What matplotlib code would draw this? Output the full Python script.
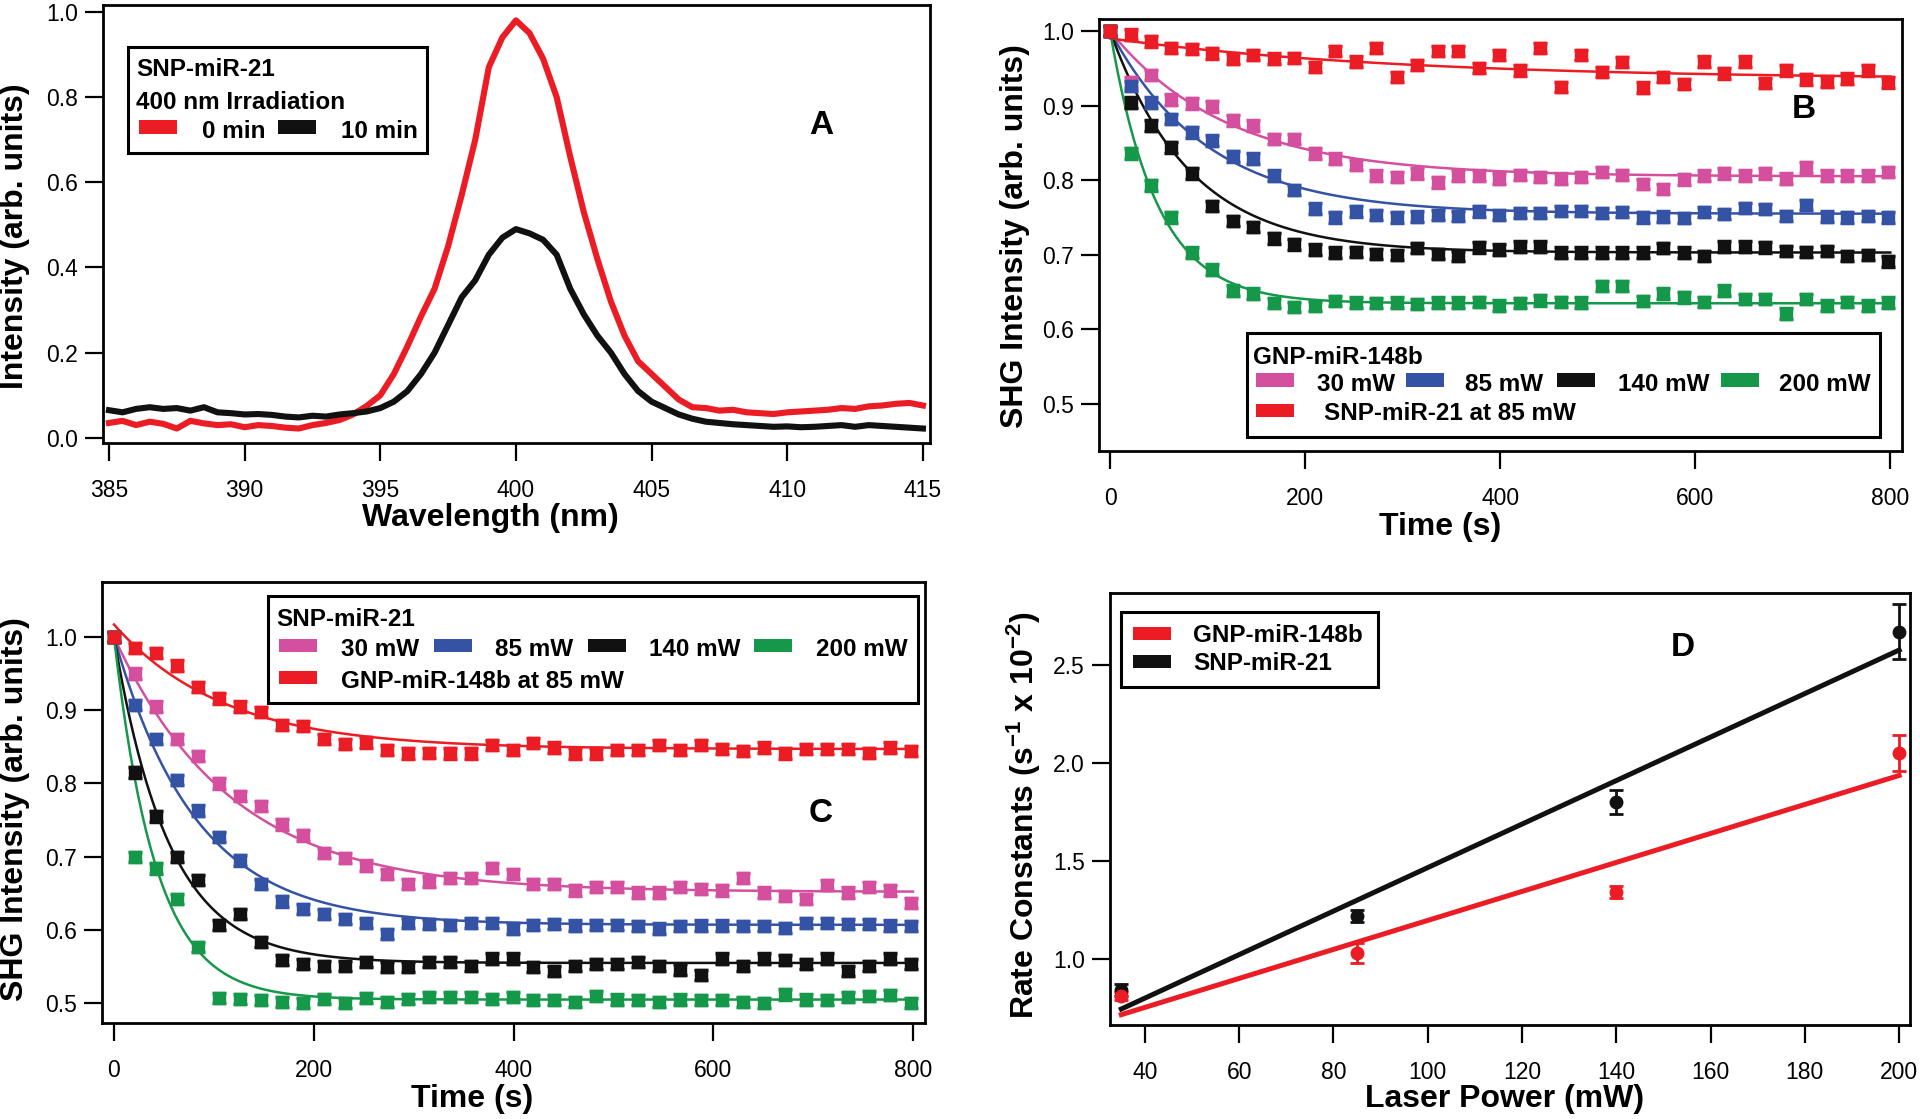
import numpy as np
import matplotlib
matplotlib.use('Agg')
import matplotlib.pyplot as plt
from matplotlib.patches import Rectangle

plt.rcParams['font.family'] = ['Liberation Sans', 'DejaVu Sans']
plt.rcParams['mathtext.fontset'] = 'custom'
plt.rcParams['mathtext.bf'] = 'Liberation Sans:bold'
plt.rcParams['mathtext.rm'] = 'Liberation Sans:bold'
plt.rcParams['mathtext.default'] = 'bf'

# ---------------- data ----------------
# panel A: spectra (0.5 nm steps)
wavelength = [385.0, 385.5, 386.0, 386.5, 387.0, 387.5, 388.0, 388.5, 389.0, 389.5,
              390.0, 390.5, 391.0, 391.5, 392.0, 392.5, 393.0, 393.5, 394.0, 394.5,
              395.0, 395.5, 396.0, 396.5, 397.0, 397.5, 398.0, 398.5, 399.0, 399.5,
              400.0, 400.5, 401.0, 401.5, 402.0, 402.5, 403.0, 403.5, 404.0, 404.5,
              405.0, 405.5, 406.0, 406.5, 407.0, 407.5, 408.0, 408.5, 409.0, 409.5,
              410.0, 410.5, 411.0, 411.5, 412.0, 412.5, 413.0, 413.5, 414.0, 414.5,
              415.0]
spec_0min = [0.035, 0.040, 0.030, 0.038, 0.033, 0.022, 0.040, 0.034, 0.030, 0.032,
             0.025, 0.030, 0.028, 0.024, 0.022, 0.030, 0.035, 0.042, 0.055, 0.075,
             0.100, 0.150, 0.215, 0.285, 0.350, 0.450, 0.570, 0.700, 0.870, 0.940,
             0.980, 0.950, 0.890, 0.800, 0.660, 0.530, 0.420, 0.320, 0.240, 0.180,
             0.150, 0.120, 0.090, 0.072, 0.070, 0.064, 0.066, 0.060, 0.058, 0.056,
             0.060, 0.062, 0.064, 0.066, 0.070, 0.068, 0.074, 0.076, 0.080, 0.082,
             0.076]
spec_10min = [0.065, 0.060, 0.068, 0.072, 0.068, 0.070, 0.064, 0.072, 0.060, 0.058,
              0.055, 0.056, 0.054, 0.050, 0.048, 0.052, 0.050, 0.055, 0.058, 0.062,
              0.070, 0.085, 0.110, 0.150, 0.200, 0.265, 0.330, 0.370, 0.430, 0.470,
              0.490, 0.480, 0.465, 0.430, 0.350, 0.290, 0.240, 0.200, 0.150, 0.110,
              0.085, 0.070, 0.055, 0.045, 0.038, 0.035, 0.032, 0.030, 0.028, 0.026,
              0.027, 0.025, 0.026, 0.028, 0.030, 0.026, 0.030, 0.028, 0.026, 0.024,
              0.022]

# panels B and C: SHG decay (time in s)
time_s = [0, 21, 42, 63, 84, 105, 126, 147, 168, 189, 210, 231, 252, 273, 294, 315,
          336, 357, 378, 399, 420, 441, 462, 483, 504, 525, 546, 567, 588, 609, 630,
          651, 672, 693, 714, 735, 756, 777, 798]

B_30 = [1.000, 0.931, 0.941, 0.908, 0.903, 0.899, 0.880, 0.873, 0.855, 0.855, 0.836,
        0.829, 0.820, 0.806, 0.804, 0.809, 0.797, 0.806, 0.806, 0.802, 0.807, 0.804,
        0.802, 0.804, 0.811, 0.807, 0.795, 0.788, 0.801, 0.806, 0.809, 0.806, 0.809,
        0.802, 0.817, 0.806, 0.806, 0.806, 0.811]
B_85 = [1.000, 0.926, 0.904, 0.882, 0.864, 0.853, 0.832, 0.829, 0.806, 0.787, 0.762,
        0.750, 0.758, 0.753, 0.750, 0.751, 0.753, 0.752, 0.758, 0.753, 0.756, 0.756,
        0.759, 0.759, 0.756, 0.757, 0.750, 0.751, 0.749, 0.757, 0.755, 0.763, 0.761,
        0.752, 0.767, 0.751, 0.750, 0.752, 0.750]
B_140 = [1.000, 0.904, 0.873, 0.844, 0.809, 0.765, 0.745, 0.737, 0.722, 0.714, 0.707,
         0.703, 0.704, 0.701, 0.700, 0.709, 0.701, 0.698, 0.710, 0.707, 0.711, 0.711,
         0.703, 0.703, 0.703, 0.703, 0.703, 0.709, 0.703, 0.698, 0.711, 0.711, 0.710,
         0.705, 0.704, 0.705, 0.698, 0.700, 0.691]
B_200 = [1.000, 0.836, 0.793, 0.750, 0.703, 0.680, 0.652, 0.648, 0.635, 0.630, 0.631,
         0.638, 0.636, 0.635, 0.636, 0.634, 0.636, 0.636, 0.637, 0.632, 0.635, 0.639,
         0.637, 0.636, 0.658, 0.658, 0.638, 0.648, 0.643, 0.637, 0.652, 0.641, 0.641,
         0.621, 0.641, 0.632, 0.637, 0.632, 0.636]
B_snp85 = [1.000, 0.995, 0.986, 0.977, 0.976, 0.970, 0.963, 0.968, 0.963, 0.964, 0.952,
           0.973, 0.959, 0.977, 0.938, 0.954, 0.973, 0.973, 0.950, 0.968, 0.947, 0.977,
           0.925, 0.968, 0.945, 0.958, 0.924, 0.938, 0.929, 0.959, 0.943, 0.959, 0.930,
           0.947, 0.935, 0.932, 0.936, 0.947, 0.931]

C_30 = [1.000, 0.950, 0.905, 0.861, 0.837, 0.800, 0.783, 0.769, 0.744, 0.729, 0.705,
        0.698, 0.688, 0.676, 0.663, 0.666, 0.671, 0.671, 0.685, 0.676, 0.663, 0.663,
        0.654, 0.659, 0.659, 0.651, 0.651, 0.659, 0.656, 0.654, 0.671, 0.651, 0.646,
        0.642, 0.661, 0.651, 0.659, 0.654, 0.637]
C_85 = [1.000, 0.907, 0.861, 0.805, 0.763, 0.727, 0.695, 0.663, 0.639, 0.629, 0.622,
        0.615, 0.610, 0.595, 0.610, 0.608, 0.607, 0.610, 0.610, 0.602, 0.607, 0.608,
        0.606, 0.607, 0.607, 0.605, 0.602, 0.605, 0.606, 0.606, 0.605, 0.605, 0.603,
        0.610, 0.610, 0.608, 0.608, 0.606, 0.605]
C_140 = [1.000, 0.815, 0.755, 0.700, 0.668, 0.607, 0.622, 0.584, 0.559, 0.554, 0.551,
         0.551, 0.556, 0.549, 0.549, 0.556, 0.556, 0.551, 0.561, 0.561, 0.549, 0.544,
         0.551, 0.554, 0.554, 0.556, 0.551, 0.546, 0.539, 0.561, 0.551, 0.561, 0.559,
         0.554, 0.561, 0.544, 0.551, 0.561, 0.554]
C_200 = [1.000, 0.700, 0.684, 0.642, 0.577, 0.507, 0.506, 0.504, 0.502, 0.500, 0.506,
         0.500, 0.507, 0.502, 0.506, 0.509, 0.509, 0.509, 0.506, 0.509, 0.504, 0.504,
         0.502, 0.510, 0.505, 0.504, 0.502, 0.505, 0.504, 0.504, 0.502, 0.500, 0.512,
         0.505, 0.504, 0.509, 0.510, 0.511, 0.500]
C_gnp85 = [1.000, 0.985, 0.978, 0.961, 0.932, 0.916, 0.905, 0.898, 0.880, 0.878, 0.861,
           0.854, 0.856, 0.846, 0.841, 0.842, 0.841, 0.841, 0.852, 0.846, 0.855, 0.849,
           0.841, 0.841, 0.846, 0.846, 0.852, 0.846, 0.852, 0.847, 0.844, 0.849, 0.841,
           0.847, 0.847, 0.847, 0.842, 0.849, 0.844]
shg_err = 0.007

# single-exponential fit parameters: plateau, amplitude, tau (s)
B_fit = {'30': (0.805, 0.195, 120), '85': (0.755, 0.245, 100), '140': (0.703, 0.297, 82),
         '200': (0.635, 0.365, 48), 'ref': (0.935, 0.055, 300)}
C_fit = {'30': (0.652, 0.348, 118), '85': (0.607, 0.393, 82), '140': (0.555, 0.445, 55),
         '200': (0.505, 0.495, 42), 'ref': (0.847, 0.170, 110)}

# panel D: rate constants
power_mW = [35, 85, 140, 200]
k_gnp = [0.81, 1.03, 1.34, 2.05]
k_gnp_err = [0.02, 0.05, 0.03, 0.09]
k_snp = [0.84, 1.22, 1.80, 2.67]
k_snp_err = [0.03, 0.03, 0.06, 0.14]

# colours
RED = '#ec1c24'
BLACK = '#111111'
PINK = '#d4509f'
BLUE = '#3553a5'
GREEN = '#16984a'

W, H = 1920, 1119
fig = plt.figure(figsize=(W / 100, H / 100), dpi=100)


def axes_px(x0, y0, x1, y1):
    return fig.add_axes([x0 / W, 1 - y1 / H, (x1 - x0) / W, (y1 - y0) / H])


def style(ax):
    for s in ax.spines.values():
        s.set_linewidth(2.0)
    ax.tick_params(direction='out', length=13, width=1.6, labelsize=16.5,
                   top=False, right=False)
    ax.tick_params(axis='x', pad=13)
    ax.tick_params(axis='y', pad=5)


def labels(ax, xl, xpos, yl, ypos):
    ax.set_xlabel(xl, fontsize=23, fontweight='bold', va='center', ha='center')
    ax.xaxis.set_label_coords(xpos[0] / W, 1 - xpos[1] / H, transform=fig.transFigure)
    ax.set_ylabel(yl, fontsize=23, fontweight='bold', va='center', ha='center')
    ax.yaxis.set_label_coords(ypos[0] / W, 1 - ypos[1] / H, transform=fig.transFigure)


def ftext(x, y, s, size=17.5, ha='left'):
    fig.text(x / W, 1 - y / H, s, ha=ha, va='center', fontsize=size,
             fontweight='bold', zorder=12)


def fbox(x0, y0, x1, y1):
    fig.patches.append(Rectangle((x0 / W, 1 - y1 / H), (x1 - x0) / W, (y1 - y0) / H,
                                 transform=fig.transFigure, facecolor='white',
                                 edgecolor='black', lw=2.2, zorder=11))


def fpatch(x0, yc, color, w=38, h=13):
    fig.patches.append(Rectangle((x0 / W, 1 - (yc + h / 2) / H), w / W, h / H,
                                 transform=fig.transFigure, facecolor=color,
                                 edgecolor='none', zorder=12))


# ---------------- panel A ----------------
axA = axes_px(103, 5, 930, 443)
axA.plot(wavelength, spec_0min, color=RED, lw=4.4)
axA.plot(wavelength, spec_10min, color=BLACK, lw=4.4)
axA.set_xlim(384.78, 415.26)
axA.set_ylim(-0.012, 1.016)
axA.set_xticks(np.arange(385, 416, 5))
axA.set_yticks(np.arange(0, 1.01, 0.2))
axA.yaxis.set_major_formatter(plt.FormatStrFormatter('%.1f'))
style(axA)
labels(axA, 'Wavelength (nm)', (490, 518), 'Intensity (arb. units)', (15, 236))

fbox(128, 47, 427, 153)
ftext(136, 70, 'SNP-miR-21')
ftext(136, 102, '400 nm Irradiation')
fpatch(139, 127, RED)
ftext(202, 131, '0 min')
fpatch(278, 127, BLACK)
ftext(341, 131, '10 min')
ftext(821, 126, 'A', size=24, ha='center')

# ---------------- panels B and C ----------------
t_fit = np.linspace(0, 800, 400)


def decay_panel(ax, series, fits):
    for key, y, color in series:
        c, a, tau = fits[key]
        ax.plot(t_fit, c + a * np.exp(-t_fit / tau), color=color, lw=1.8, zorder=2)
        ax.errorbar(time_s, y, yerr=shg_err, fmt='s', color=color, ms=8.5,
                    mec=color, elinewidth=2.5, capsize=5, capthick=2.5, zorder=3)
    ax.set_xlim(-11.3, 812)
    ax.set_xticks([0, 200, 400, 600, 800])
    ax.set_yticks(np.arange(0.5, 1.01, 0.1))
    ax.yaxis.set_major_formatter(plt.FormatStrFormatter('%.1f'))
    style(ax)


axB = axes_px(1099, 19, 1902, 451)
decay_panel(axB, [('30', B_30, PINK), ('85', B_85, BLUE), ('140', B_140, BLACK),
                  ('200', B_200, GREEN), ('ref', B_snp85, RED)], B_fit)
axB.set_ylim(0.437, 1.016)
labels(axB, 'Time (s)', (1440, 527), 'SHG Intensity (arb. units)', (1015, 236))

fbox(1247, 333, 1880, 437)
ftext(1253, 357, 'GNP-miR-148b')
for x0, xt, col, lab in [(1256, 1317, PINK, '30 mW'), (1406, 1465, BLUE, '85 mW'),
                         (1557, 1618, BLACK, '140 mW'), (1721, 1779, GREEN, '200 mW')]:
    fpatch(x0, 380, col)
    ftext(xt, 385, lab)
fpatch(1256, 410, RED)
ftext(1324, 414, 'SNP-miR-21 at 85 mW')
ftext(1804, 109, 'B', size=24, ha='center')

axC = axes_px(102, 582, 925, 1023)
decay_panel(axC, [('30', C_30, PINK), ('85', C_85, BLUE), ('140', C_140, BLACK),
                  ('200', C_200, GREEN), ('ref', C_gnp85, RED)], C_fit)
axC.set_xlim(-12, 812)
axC.set_ylim(0.473, 1.075)
labels(axC, 'Time (s)', (472, 1099), 'SHG Intensity (arb. units)', (15, 809))

fbox(268, 596, 918, 703)
ftext(276, 619, 'SNP-miR-21')
for x0, xt, col, lab in [(279, 341, PINK, '30 mW'), (434, 495, BLUE, '85 mW'),
                         (588, 649, BLACK, '140 mW'), (754, 816, GREEN, '200 mW')]:
    fpatch(x0, 645, col)
    ftext(xt, 649, lab)
fpatch(279, 677, RED)
ftext(341, 681, 'GNP-miR-148b at 85 mW')
ftext(821, 813, 'C', size=24, ha='center')

# ---------------- panel D ----------------
axD = axes_px(1110, 593, 1910, 1025)
p_line = np.array([35, 200])
for k, kerr, col in [(k_snp, k_snp_err, BLACK), (k_gnp, k_gnp_err, RED)]:
    slope, icpt = np.polyfit(power_mW, k, 1)
    axD.plot(p_line, slope * p_line + icpt, color=col, lw=3.6, zorder=2)
    axD.errorbar(power_mW, k, yerr=kerr, fmt='o', color=col, ms=9,
                 elinewidth=2, capsize=5, capthick=2, zorder=3)
axD.set_xlim(32.6, 202.3)
axD.set_ylim(0.663, 2.867)
axD.set_xticks(np.arange(40, 201, 20))
axD.set_yticks([1.0, 1.5, 2.0, 2.5])
axD.yaxis.set_major_formatter(plt.FormatStrFormatter('%.1f'))
style(axD)
labels(axD, 'Laser Power (mW)', (1505, 1099),
       r'Rate Constants (s$^{-1}$ x 10$^{-2}$)', (1024, 815))

fbox(1121, 612, 1378, 687)
fpatch(1133, 633, RED)
ftext(1193, 636, 'GNP-miR-148b')
fpatch(1133, 661, BLACK)
ftext(1193, 664, 'SNP-miR-21')
ftext(1683, 647, 'D', size=24, ha='center')

fig.savefig('out.png', dpi=100)
